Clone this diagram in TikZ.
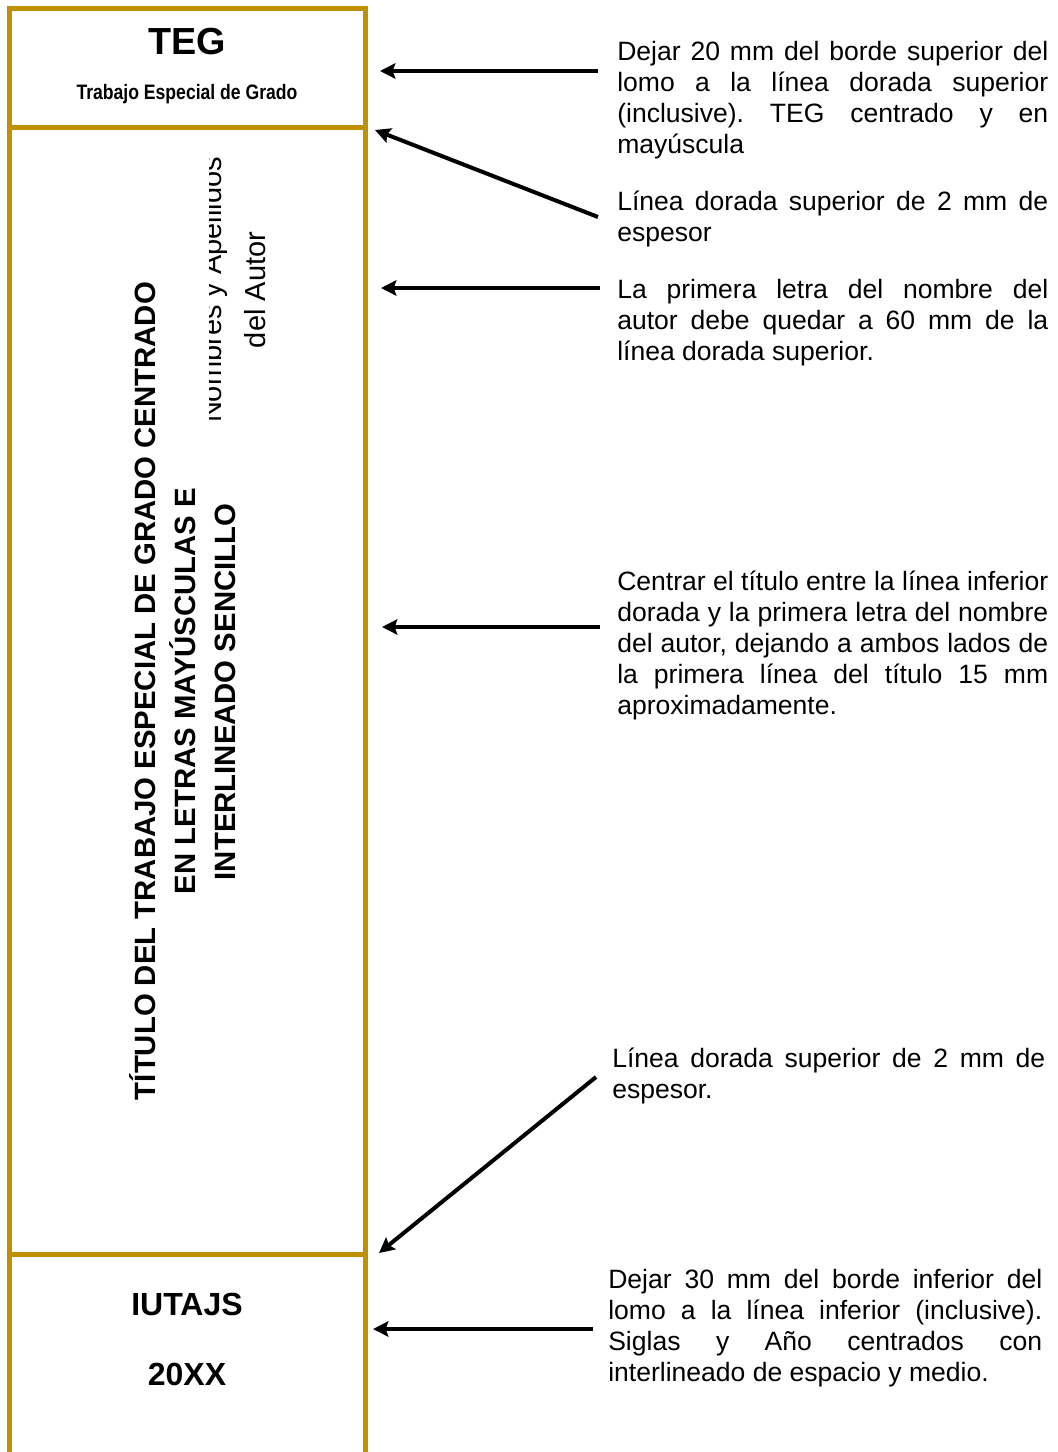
\documentclass[tikz,border=0pt]{standalone}
\usepackage{fontspec}
\setmainfont{Liberation Sans}
\usetikzlibrary{arrows.meta}
\definecolor{gold}{RGB}{191,144,0}
\newcommand\jline[2][323.25pt]{\makebox[#1][s]{#2}}
\begin{document}
\frenchspacing
\begin{tikzpicture}[x=0.75pt,y=-0.75pt,
  frame/.style={draw=gold,line width=3.75pt},
  pointer/.style={-{Stealth[length=11.5pt,width=11.5pt,inset=2pt]},line width=3pt,draw=black},
  note/.style={anchor=base west,inner sep=0pt,align=left,
    font=\fontsize{19.9pt}{23.25pt}\selectfont\frenchspacing},
  titlefont/.style={inner sep=0pt,rotate=90,anchor=base,
    font=\fontsize{22pt}{26pt}\selectfont\bfseries},
  authorfont/.style={inner sep=0pt,rotate=90,anchor=base,
    font=\fontsize{21.75pt}{26pt}\selectfont},
  bigbold/.style={inner sep=0pt,anchor=base,
    font=\fontsize{24pt}{28pt}\selectfont\bfseries}]
\useasboundingbox (0,0) rectangle (1057,1452);
\fill[white] (0,0) rectangle (1057,1452);

% spine frame
\draw[frame] (9,1452) -- (9,8.5) -- (365,8.5) -- (365,1452);
\draw[frame] (9,128) -- (365,128);
\draw[frame] (9,1254) -- (365,1254);

% header
\node[inner sep=0pt,anchor=base,font=\fontsize{28.3pt}{30pt}\selectfont\bfseries] (teg) at (187,55) {TEG};
\node[inner sep=0pt,anchor=base,font=\fontsize{15.7pt}{16pt}\selectfont\bfseries] (tegsub) at (187,100) {\scalebox{0.84}[1]{Trabajo Especial de Grado}};

% title
\node[titlefont] (t1) at (155,691) {TÍTULO DEL TRABAJO ESPECIAL DE GRADO CENTRADO};
\node[titlefont] (t2) at (195,691) {EN LETRAS MAYÚSCULAS E};
\node[titlefont] (t3) at (235,692) {INTERLINEADO SENCILLO};

% author (clipped as in the reference)
\begin{scope}
\clip (209,135) rectangle (360,1250);
\node[authorfont] (a1) at (221,290) {Nombres y Apellidos};
\node[authorfont] (a2) at (265,290) {del Autor};
\end{scope}

% footer
\node[bigbold] (sig) at (187,1315) {IUTAJS};
\node[bigbold] (year) at (187,1385) {20XX};

% notes (anchored at the baseline of their last line)
\node[note] (n1) at (617,154) {%
\jline{Dejar 20 mm del borde superior del}\\
\jline{lomo a la línea dorada superior}\\
\jline{(inclusive). TEG centrado y en}\\
mayúscula};
\node[note] (n2) at (617,241) {%
\jline{Línea dorada superior de 2 mm de}\\
espesor};
\node[note] (n3) at (617,360) {%
\jline{La primera letra del nombre del}\\
\jline{autor debe quedar a 60 mm de la}\\
línea dorada superior.};
\node[note] (n4) at (617,714) {%
\jline{Centrar el título entre la línea inferior}\\
\jline{dorada y la primera letra del nombre}\\
\jline{del autor, dejando a ambos lados de}\\
\jline{la primera línea del título 15 mm}\\
aproximadamente.};
\node[note] (n5) at (612,1098) {%
\jline[324.75pt]{Línea dorada superior de 2 mm de}\\
espesor.};
\node[note] (n6) at (608,1381) {%
\jline[325.5pt]{Dejar 30 mm del borde inferior del}\\
\jline[325.5pt]{lomo a la línea inferior (inclusive).}\\
\jline[325.5pt]{Siglas y Año centrados con}\\
interlineado de espacio y medio.};

% arrows
\coordinate (p1t) at (598,71);   \coordinate (p1h) at (380,71);
\coordinate (p2t) at (598,217);  \coordinate (p2h) at (375,130);
\coordinate (p3t) at (600,288);  \coordinate (p3h) at (381,288);
\coordinate (p4t) at (600,627);  \coordinate (p4h) at (382,627);
\coordinate (p5t) at (596,1077); \coordinate (p5h) at (379,1253);
\coordinate (p6t) at (593,1329); \coordinate (p6h) at (373,1329);
\draw[pointer] (p1t) -- (p1h);
\draw[pointer] (p2t) -- (p2h);
\draw[pointer] (p3t) -- (p3h);
\draw[pointer] (p4t) -- (p4h);
\draw[pointer] (p5t) -- (p5h);
\draw[pointer] (p6t) -- (p6h);
\end{tikzpicture}
\end{document}
